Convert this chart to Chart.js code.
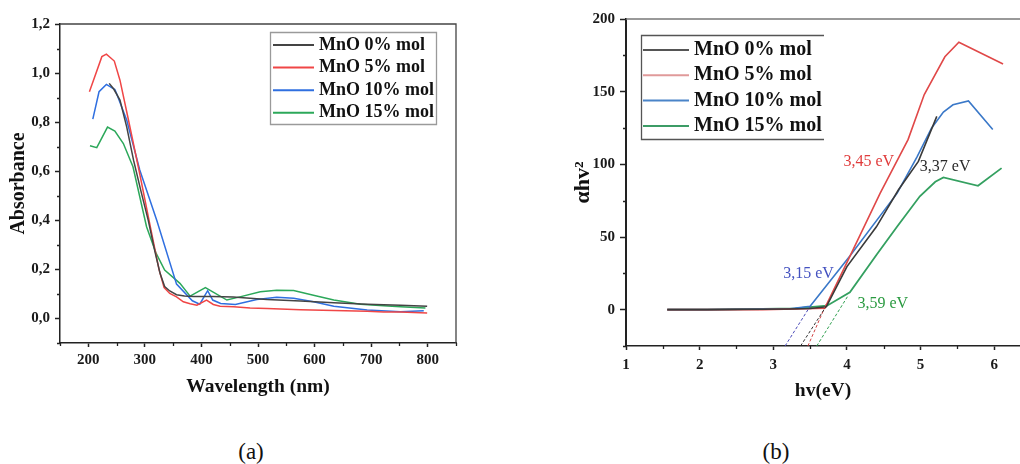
<!DOCTYPE html>
<html>
<head>
<meta charset="utf-8">
<script src="https://cdn.jsdelivr.net/npm/chart.js@4.4.1/dist/chart.umd.min.js"></script>
<style>
  body { margin: 0; width: 1020px; height: 464px; background: #fff; position: relative; overflow: hidden; font-family: "Liberation Serif", "Times New Roman", serif; }
  #chartA { position: absolute; left: 0; top: 0; }
  #chartB { position: absolute; left: 550px; top: 0; }
  .cap { position: absolute; width: 60px; text-align: center; font-size: 23px; line-height: 26px; color: #111; }
</style>
</head>
<body>
<canvas id="chartA" width="470" height="420"></canvas>
<canvas id="chartB" width="470" height="420"></canvas>
<div class="cap" style="left:221px; top:439px;">(a)</div>
<div class="cap" style="left:746px; top:439px;">(b)</div>
<script>
// ---- panel (a): absorbance vs wavelength ----
const seriesNames = ["MnO 0% mol", "MnO 5% mol", "MnO 10% mol", "MnO 15% mol"];

const aWave0 = [237, 245, 256, 268, 280, 293, 306, 318, 327, 335, 344, 356, 370, 386, 420, 456, 516, 575, 634, 693, 752, 799];
const aAbs0  = [0.958, 0.935, 0.89, 0.78, 0.645, 0.52, 0.40, 0.27, 0.183, 0.13, 0.112, 0.097, 0.092, 0.089, 0.089, 0.087, 0.077, 0.071, 0.064, 0.058, 0.054, 0.05];

const aWave5 = [202, 224, 232, 246, 256, 270, 290, 310, 325, 334, 344, 356, 368, 380, 392, 409, 421, 433, 457, 486, 516, 575, 634, 693, 722, 752, 799];
const aAbs5  = [0.924, 1.067, 1.077, 1.049, 0.971, 0.82, 0.60, 0.37, 0.20, 0.126, 0.102, 0.088, 0.068, 0.06, 0.054, 0.075, 0.057, 0.05, 0.048, 0.043, 0.041, 0.036, 0.032, 0.029, 0.026, 0.026, 0.022];

const aWave10 = [208, 219, 232, 247, 250, 268, 291, 321, 356, 384, 397, 411, 420, 434, 460, 498, 533, 563, 598, 634, 693, 752, 793];
const aAbs10  = [0.8125, 0.924, 0.954, 0.933, 0.917, 0.808, 0.605, 0.40, 0.14, 0.072, 0.058, 0.113, 0.075, 0.061, 0.057, 0.077, 0.086, 0.082, 0.068, 0.05, 0.034, 0.027, 0.031];

const aWave15 = [203, 215, 234, 247, 262, 279, 303, 320, 335, 362, 380, 407, 445, 468, 504, 533, 563, 598, 634, 681, 722, 752, 796];
const aAbs15  = [0.704, 0.696, 0.78, 0.764, 0.713, 0.618, 0.374, 0.265, 0.197, 0.143, 0.091, 0.126, 0.075, 0.088, 0.109, 0.115, 0.114, 0.095, 0.075, 0.058, 0.052, 0.048, 0.043];

const aXTicks = [200, 300, 400, 500, 600, 700, 800];
const aYTicks = [0, 0.2, 0.4, 0.6, 0.8, 1.0, 1.2];
const aXMinor = [150, 250, 350, 450, 550, 650, 750, 850];
const aYMinor = [-0.1, 0.1, 0.3, 0.5, 0.7, 0.9, 1.1];

// ---- panel (b): Tauc plot ----
const bE0 = [1.56, 2.1, 2.5, 2.85, 3.2, 3.5, 3.72, 4.0, 4.4, 4.7, 4.97, 5.22];
const bV0 = [0, 0, 0.2, 0.3, 0.5, 0.8, 2.0, 29.6, 57, 82.5, 102, 133];

const bE5 = [1.56, 2.1, 2.85, 3.3, 3.7, 4.04, 4.45, 4.83, 5.05, 5.33, 5.52, 6.12];
const bV5 = [0, 0, 0, 0.5, 1.0, 36.7, 80, 117, 148, 174, 184, 169];

const bE10 = [1.56, 2.1, 2.85, 3.2, 3.5, 4.04, 4.68, 4.95, 5.15, 5.31, 5.44, 5.65, 5.98];
const bV10 = [0, 0, 0.5, 0.5, 2.3, 37, 80, 105, 125, 136, 141, 143.6, 124];

const bE15 = [1.56, 2.1, 2.85, 3.3, 3.73, 4.04, 4.4, 4.68, 4.99, 5.2, 5.31, 5.78, 6.1];
const bV15 = [0, 0, 0.6, 0.8, 2.7, 12, 37.6, 57, 78, 88, 91, 85.2, 97.4];

// tangent extrapolations (dashed) down to the axis bottom
const tanE0 = [3.37, 3.74], tanV0 = [-25, 4];
const tanE5 = [3.47, 3.72], tanV5 = [-25, 4];
const tanE10 = [3.16, 3.5], tanV10 = [-25, 2.3];
const tanE15 = [3.59, 4.02], tanV15 = [-25, 10];

const bGapLabels = ["3,37 eV", "3,45 eV", "3,15 eV", "3,59 eV"];

const bXTicks = [1, 2, 3, 4, 5, 6];
const bYTicks = [0, 50, 100, 150, 200];
const bXMinor = [1.5, 2.5, 3.5, 4.5, 5.5];
const bYMinor = [-25, 25, 75, 125, 175];

const colorsA = ["#444444", "#f04646", "#2f6fe0", "#2ca85a"];
const colorsB = ["#3a3a3a", "#e04848", "#3a78c8", "#34a060"];

const serif = '"Liberation Serif", "Times New Roman", serif';

function pts(xs, ys) {
    return xs.map((x, i) => ({ x: x, y: ys[i] }));
}

function lineSet(label, xs, ys, color, width) {
    return {
        label: label,
        data: pts(xs, ys),
        borderColor: color,
        backgroundColor: color,
        borderWidth: width,
        pointRadius: 0,
        tension: 0,
        fill: false,
    };
}

function dashSet(xs, ys, color) {
    return {
        label: "",
        skipLegend: true,
        data: pts(xs, ys),
        borderColor: color,
        borderWidth: 1,
        borderDash: [3, 2],
        pointRadius: 0,
        tension: 0,
        fill: false,
    };
}

// frame line along the top (and right) of the plot area
const framePlugin = {
    id: "frame",
    afterDraw(chart, args, opts) {
        const { ctx, chartArea: a } = chart;
        ctx.save();
        ctx.strokeStyle = opts.color;
        ctx.lineWidth = opts.width;
        ctx.beginPath();
        ctx.moveTo(a.left, a.top);
        ctx.lineTo(a.right, a.top);
        if (opts.right) ctx.lineTo(a.right, a.bottom);
        ctx.stroke();
        ctx.restore();
    },
};

// small minor ticks between the labelled ones
const minorPlugin = {
    id: "minor",
    afterDraw(chart, args, opts) {
        const { ctx, scales } = chart;
        const x = scales.x, y = scales.y;
        ctx.save();
        ctx.strokeStyle = opts.color;
        ctx.lineWidth = opts.width;
        ctx.beginPath();
        opts.xs.forEach((v) => {
            const px = Math.round(x.getPixelForValue(v)) + 0.5;
            ctx.moveTo(px, x.top);
            ctx.lineTo(px, x.top + opts.len);
        });
        opts.ys.forEach((v) => {
            const py = Math.round(y.getPixelForValue(v)) + 0.5;
            ctx.moveTo(y.right, py);
            ctx.lineTo(y.right - opts.len, py);
        });
        ctx.stroke();
        ctx.restore();
    },
};

// boxed legend inside the plot
const boxLegendPlugin = {
    id: "boxLegend",
    afterDraw(chart, args, o) {
        const ctx = chart.ctx;
        ctx.save();
        ctx.strokeStyle = o.frameColor;
        ctx.lineWidth = 1.3;
        ctx.beginPath();
        if (o.openRight) {
            ctx.moveTo(o.right, o.top);
            ctx.lineTo(o.left, o.top);
            ctx.lineTo(o.left, o.bottom);
            ctx.lineTo(o.right, o.bottom);
        } else {
            ctx.rect(o.left, o.top, o.right - o.left, o.bottom - o.top);
        }
        ctx.stroke();
        ctx.font = o.font;
        ctx.textBaseline = "middle";
        ctx.fillStyle = "#111";
        let row = 0;
        chart.data.datasets.forEach((ds) => {
            if (ds.skipLegend) return;
            const cy = o.firstRow + row * o.rowH;
            ctx.strokeStyle = o.lineColors ? o.lineColors[row] : ds.borderColor;
            ctx.lineWidth = 2;
            ctx.beginPath();
            ctx.moveTo(o.lineX0, cy);
            ctx.lineTo(o.lineX1, cy);
            ctx.stroke();
            ctx.fillText(ds.label, o.textX, cy);
            row++;
        });
        ctx.restore();
    },
};

// band gap labels placed in data coordinates
const gapLabelPlugin = {
    id: "gapLabels",
    afterDraw(chart, args, o) {
        const { ctx, scales } = chart;
        ctx.save();
        ctx.font = o.font;
        ctx.textAlign = "center";
        ctx.textBaseline = "middle";
        o.items.forEach((it) => {
            ctx.fillStyle = it.color;
            ctx.fillText(it.text, scales.x.getPixelForValue(it.at[0]), scales.y.getPixelForValue(it.at[1]));
        });
        ctx.restore();
    },
};

function axisX(min, max, ticks, title, fit, tl, pad, titlePad, fmt, borderW) {
    return {
        type: "linear",
        min: min,
        max: max,
        afterBuildTicks: (s) => { s.ticks = ticks.map((v) => ({ value: v })); },
        afterFit: (s) => { s.height = fit; },
        grid: { drawOnChartArea: false, drawTicks: true, tickLength: tl, tickColor: "#222", tickWidth: 1.5 },
        border: { color: "#222", width: borderW },
        ticks: { font: { family: serif, size: 15, weight: "bold" }, color: "#1a1a1a", padding: pad, maxRotation: 0, autoSkip: false, callback: fmt },
        title: { display: true, text: title, font: { family: serif, size: 19.5, weight: "bold" }, color: "#111", padding: { top: 0, bottom: titlePad } },
    };
}

function axisY(min, max, ticks, title, fit, tl, pad, titlePad, fmt, borderW, titleSize) {
    return {
        type: "linear",
        min: min,
        max: max,
        afterBuildTicks: (s) => { s.ticks = ticks.map((v) => ({ value: v })); },
        afterFit: (s) => { s.width = fit; },
        grid: { drawOnChartArea: false, drawTicks: true, tickLength: tl, tickColor: "#222", tickWidth: 1.5 },
        border: { color: "#222", width: borderW },
        ticks: { font: { family: serif, size: 15, weight: "bold" }, color: "#1a1a1a", padding: pad, autoSkip: false, callback: fmt },
        title: { display: true, text: title, font: { family: serif, size: titleSize, weight: "bold" }, color: "#111", padding: { top: titlePad, bottom: 0 } },
    };
}

const commaOne = (v) => Number(v).toFixed(1).replace(".", ",");
const plain = (v) => String(v);

// chart (a)
new Chart(document.getElementById("chartA"), {
    type: "line",
    data: {
        datasets: [
            lineSet(seriesNames[0], aWave0, aAbs0, colorsA[0], 1.5),
            lineSet(seriesNames[1], aWave5, aAbs5, colorsA[1], 1.5),
            lineSet(seriesNames[2], aWave10, aAbs10, colorsA[2], 1.5),
            lineSet(seriesNames[3], aWave15, aAbs15, colorsA[3], 1.5),
        ],
    },
    options: {
        responsive: false,
        animation: false,
        events: [],
        layout: { padding: { top: 24, right: 14, left: 0, bottom: 0 } },
        plugins: {
            legend: { display: false },
            tooltip: { enabled: false },
            frame: { color: "#444", width: 1.3, right: true },
            minor: { xs: aXMinor, ys: aYMinor, len: 3, color: "#222", width: 1.3 },
            boxLegend: {
                left: 270.5, top: 32.5, right: 436.5, bottom: 124.5,
                frameColor: "#9a9a9a", font: 'bold 18px "Liberation Serif", serif',
                lineX0: 273, lineX1: 314, textX: 319, firstRow: 45, rowH: 22.6,
            },
        },
        scales: {
            x: axisX(150, 850, aXTicks, "Wavelength (nm)", 77, 4, 4, 21, plain, 1.5),
            y: axisY(-0.1, 1.2, aYTicks, "Absorbance", 60, 5, 5, 7, commaOne, 1.5, 20),
        },
    },
    plugins: [framePlugin, minorPlugin, boxLegendPlugin],
});

// chart (b)
new Chart(document.getElementById("chartB"), {
    type: "line",
    data: {
        datasets: [
            dashSet(tanE10, tanV10, "#4a4ab8"),
            dashSet(tanE0, tanV0, "#333333"),
            dashSet(tanE5, tanV5, "#d04040"),
            dashSet(tanE15, tanV15, "#30a050"),
            lineSet(seriesNames[0], bE0, bV0, colorsB[0], 1.6),
            lineSet(seriesNames[1], bE5, bV5, colorsB[1], 1.6),
            lineSet(seriesNames[2], bE10, bV10, colorsB[2], 1.6),
            lineSet(seriesNames[3], bE15, bV15, colorsB[3], 1.8),
        ],
    },
    options: {
        responsive: false,
        animation: false,
        events: [],
        layout: { padding: { top: 19, right: 0, left: 0, bottom: 0 } },
        plugins: {
            legend: { display: false },
            tooltip: { enabled: false },
            frame: { color: "#777", width: 1.3, right: false },
            minor: { xs: bXMinor, ys: bYMinor, len: 3, color: "#222", width: 1.3 },
            boxLegend: {
                left: 91.5, top: 35.5, right: 274, bottom: 139.5, openRight: true,
                frameColor: "#555", font: 'bold 20px "Liberation Serif", serif',
                lineX0: 93, lineX1: 139, textX: 144, firstRow: 50, rowH: 25.3,
                lineColors: ["#555555", "#e09a9a", "#4a84c8", "#3c9c66"],
            },
            gapLabels: {
                font: '16px "Liberation Serif", serif',
                items: [
                    { text: bGapLabels[1], at: [4.297, 101.6], color: "#e03c3c" },
                    { text: bGapLabels[0], at: [5.333, 98.4], color: "#2a2a2a" },
                    { text: bGapLabels[2], at: [3.478, 25.0], color: "#4452c0" },
                    { text: bGapLabels[3], at: [4.487, 3.9], color: "#2a9a40" },
                ],
            },
        },
        scales: {
            x: axisX(1, 6.35, bXTicks, "hv(eV)", 74, 4, 6, 17, plain, 1.5),
            y: axisY(-25, 200, bYTicks, "αhv²", 76, 6, 5, 20, plain, 2, 22),
        },
    },
    plugins: [framePlugin, minorPlugin, boxLegendPlugin, gapLabelPlugin],
});
</script>
</body>
</html>
